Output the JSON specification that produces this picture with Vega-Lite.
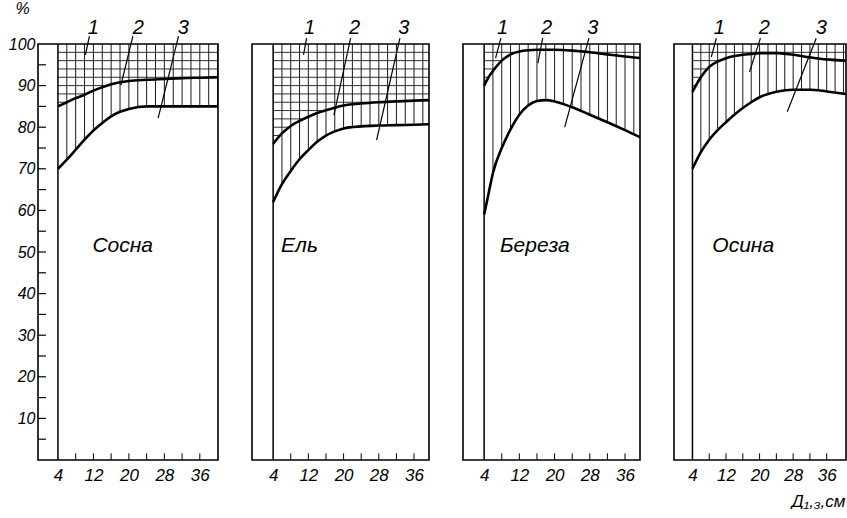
{
  "$schema": "https://vega.github.io/schema/vega-lite/v6.json",
  "background": "white",
  "padding": {"left": 8, "top": 0, "right": 0, "bottom": 0},
  "spacing": 27,
  "config": {
    "view": {"stroke": null},
    "font": "Liberation Sans",
    "axis": {"labelFont": "Liberation Sans", "labelFontStyle": "italic", "labelFontSize": 17, "labelColor": "black", "ticks": false, "domain": false, "grid": false, "zindex": 1, "labelFlush": false, "labelOverlap": false, "titleFont": "Liberation Sans", "titleFontStyle": "italic", "titleFontWeight": "normal", "titleColor": "black"}
  },
  "datasets": {
    "curves": [
      {"sp": "Сосна", "x": 4, "up": 85, "lo": 70},
      {"sp": "Сосна", "x": 6, "up": 86, "lo": 72.2},
      {"sp": "Сосна", "x": 8, "up": 87, "lo": 74.6},
      {"sp": "Сосна", "x": 10, "up": 87.8, "lo": 77},
      {"sp": "Сосна", "x": 12, "up": 88.8, "lo": 79.2},
      {"sp": "Сосна", "x": 14, "up": 89.6, "lo": 81},
      {"sp": "Сосна", "x": 16, "up": 90.3, "lo": 82.6},
      {"sp": "Сосна", "x": 18, "up": 90.8, "lo": 83.7},
      {"sp": "Сосна", "x": 20, "up": 91.1, "lo": 84.4},
      {"sp": "Сосна", "x": 24, "up": 91.4, "lo": 85},
      {"sp": "Сосна", "x": 28, "up": 91.6, "lo": 85},
      {"sp": "Сосна", "x": 32, "up": 91.8, "lo": 85},
      {"sp": "Сосна", "x": 36, "up": 91.9, "lo": 85},
      {"sp": "Сосна", "x": 40.1, "up": 92, "lo": 85},
      {"sp": "Ель", "x": 4, "up": 76, "lo": 62},
      {"sp": "Ель", "x": 6, "up": 78.5, "lo": 66.3},
      {"sp": "Ель", "x": 8, "up": 80.3, "lo": 69.5},
      {"sp": "Ель", "x": 10, "up": 81.5, "lo": 72.3},
      {"sp": "Ель", "x": 12, "up": 82.5, "lo": 74.5},
      {"sp": "Ель", "x": 14, "up": 83.4, "lo": 76.5},
      {"sp": "Ель", "x": 16, "up": 84.1, "lo": 78},
      {"sp": "Ель", "x": 18, "up": 84.7, "lo": 79},
      {"sp": "Ель", "x": 20, "up": 85.2, "lo": 79.7},
      {"sp": "Ель", "x": 24, "up": 85.7, "lo": 80.2},
      {"sp": "Ель", "x": 28, "up": 86, "lo": 80.4},
      {"sp": "Ель", "x": 32, "up": 86.2, "lo": 80.5},
      {"sp": "Ель", "x": 36, "up": 86.4, "lo": 80.6},
      {"sp": "Ель", "x": 39.4, "up": 86.5, "lo": 80.7},
      {"sp": "Береза", "x": 4, "up": 90, "lo": 59},
      {"sp": "Береза", "x": 5, "up": 92, "lo": 64},
      {"sp": "Береза", "x": 6, "up": 93.5, "lo": 69},
      {"sp": "Береза", "x": 8, "up": 96, "lo": 75},
      {"sp": "Береза", "x": 10, "up": 97.5, "lo": 79.5},
      {"sp": "Береза", "x": 12, "up": 98.2, "lo": 83},
      {"sp": "Береза", "x": 14, "up": 98.5, "lo": 85.2},
      {"sp": "Береза", "x": 16, "up": 98.6, "lo": 86.3},
      {"sp": "Береза", "x": 18, "up": 98.6, "lo": 86.5},
      {"sp": "Береза", "x": 20, "up": 98.6, "lo": 86.2},
      {"sp": "Береза", "x": 24, "up": 98.4, "lo": 84.8},
      {"sp": "Береза", "x": 28, "up": 98, "lo": 83},
      {"sp": "Береза", "x": 32, "up": 97.5, "lo": 81.2},
      {"sp": "Береза", "x": 36, "up": 97, "lo": 79.3},
      {"sp": "Береза", "x": 39.4, "up": 96.6, "lo": 77.6},
      {"sp": "Осина", "x": 4, "up": 88.5, "lo": 70},
      {"sp": "Осина", "x": 6, "up": 92, "lo": 74},
      {"sp": "Осина", "x": 8, "up": 94.5, "lo": 77},
      {"sp": "Осина", "x": 10, "up": 95.8, "lo": 79.3},
      {"sp": "Осина", "x": 12, "up": 96.6, "lo": 81.2},
      {"sp": "Осина", "x": 14, "up": 97.1, "lo": 83},
      {"sp": "Осина", "x": 16, "up": 97.4, "lo": 84.6},
      {"sp": "Осина", "x": 18, "up": 97.6, "lo": 86},
      {"sp": "Осина", "x": 20, "up": 97.8, "lo": 87.2},
      {"sp": "Осина", "x": 24, "up": 97.8, "lo": 88.5},
      {"sp": "Осина", "x": 28, "up": 97.4, "lo": 89},
      {"sp": "Осина", "x": 32, "up": 96.8, "lo": 89},
      {"sp": "Осина", "x": 36, "up": 96.3, "lo": 88.6},
      {"sp": "Осина", "x": 40.6, "up": 96, "lo": 88}
    ],
    "hv": [{"v": 6}, {"v": 8}, {"v": 10}, {"v": 12}, {"v": 14}, {"v": 16}, {"v": 18}, {"v": 20}, {"v": 22}, {"v": 24}, {"v": 26}, {"v": 28}, {"v": 30}, {"v": 32}, {"v": 34}, {"v": 36}, {"v": 38}, {"v": 40}],
    "hh": [{"h": 60}, {"h": 62}, {"h": 64}, {"h": 66}, {"h": 68}, {"h": 70}, {"h": 72}, {"h": 74}, {"h": 76}, {"h": 78}, {"h": 80}, {"h": 82}, {"h": 84}, {"h": 86}, {"h": 88}, {"h": 90}, {"h": 92}, {"h": 94}, {"h": 96}, {"h": 98}],
    "xt": [{"t": 8}, {"t": 12}, {"t": 16}, {"t": 20}, {"t": 24}, {"t": 28}, {"t": 32}, {"t": 36}],
    "yt": [{"t": 5}, {"t": 10}, {"t": 15}, {"t": 20}, {"t": 25}, {"t": 30}, {"t": 35}, {"t": 40}, {"t": 45}, {"t": 50}, {"t": 55}, {"t": 60}, {"t": 65}, {"t": 70}, {"t": 75}, {"t": 80}, {"t": 85}, {"t": 90}, {"t": 95}],
    "ann": [
      {"sp": "Сосна", "n": "1", "tx": 12, "ty": 103.8, "ax": 11.1, "ay": 101.9, "bx": 10.2, "by": 97.4},
      {"sp": "Сосна", "n": "2", "tx": 22.1, "ty": 103.8, "ax": 20.9, "ay": 101.9, "bx": 18.2, "by": 90.1},
      {"sp": "Сосна", "n": "3", "tx": 32.3, "ty": 103.8, "ax": 31.2, "ay": 101.9, "bx": 26.6, "by": 82.2},
      {"sp": "Ель", "n": "1", "tx": 12.3, "ty": 103.8, "ax": 11.6, "ay": 101.4, "bx": 10.9, "by": 97.4},
      {"sp": "Ель", "n": "2", "tx": 22.5, "ty": 103.8, "ax": 21.6, "ay": 101.4, "bx": 17.8, "by": 82.9},
      {"sp": "Ель", "n": "3", "tx": 33.7, "ty": 103.8, "ax": 32.8, "ay": 101.4, "bx": 27.5, "by": 76.9},
      {"sp": "Береза", "n": "1", "tx": 8.2, "ty": 103.8, "ax": 7.8, "ay": 101.4, "bx": 6.6, "by": 96.6},
      {"sp": "Береза", "n": "2", "tx": 18.2, "ty": 103.8, "ax": 17.3, "ay": 101.4, "bx": 16.2, "by": 95.4},
      {"sp": "Береза", "n": "3", "tx": 28.7, "ty": 103.8, "ax": 27.8, "ay": 101.4, "bx": 22.3, "by": 80},
      {"sp": "Осина", "n": "1", "tx": 10.4, "ty": 103.8, "ax": 9.7, "ay": 101.4, "bx": 8.5, "by": 96.9},
      {"sp": "Осина", "n": "2", "tx": 21.1, "ty": 103.8, "ax": 20.2, "ay": 101.4, "bx": 17.6, "by": 93.3},
      {"sp": "Осина", "n": "3", "tx": 34.7, "ty": 103.8, "ax": 33.5, "ay": 101.4, "bx": 26.6, "by": 83.7}
    ],
    "names": [
      {"sp": "Сосна", "name": "Сосна", "nx": 18.6, "ny": 51.4},
      {"sp": "Ель", "name": "Ель", "nx": 10, "ny": 51.4},
      {"sp": "Береза", "name": "Береза", "nx": 15.5, "ny": 51.4},
      {"sp": "Осина", "name": "Осина", "nx": 16.1, "ny": 51.4}
    ]
  },
  "hconcat": [
    {
      "width": 180, "height": 416,
      "layer": [
        {"data": {"name": "hh"}, "mark": {"type": "rule", "color": "#1a1a1a", "strokeWidth": 0.9},
         "encoding": {
           "x": {"datum": 4, "type": "quantitative", "scale": {"domain": [-0.5, 40.1], "nice": false, "zero": false},
                 "axis": {"values": [4, 12, 20, 28, 36], "labelPadding": 7, "title": null}},
           "x2": {"datum": 40.1},
           "y": {"field": "h", "type": "quantitative", "scale": {"domain": [0, 100], "nice": false, "zero": false},
                 "axis": {"values": [10, 20, 30, 40, 50, 60, 70, 80, 90, 100], "labelFontSize": 16, "labelPadding": 3, "title": "%", "titleAngle": 0, "titleX": -16, "titleY": -36, "titleAlign": "center", "titleBaseline": "middle", "titleFontSize": 16}}
         }},
        {"data": {"name": "curves"}, "transform": [{"filter": "datum.sp === 'Сосна'"}], "mark": {"type": "area", "fill": "white", "fillOpacity": 1, "interpolate": "monotone"},
         "encoding": {"x": {"field": "x", "type": "quantitative"}, "y": {"field": "up", "type": "quantitative"}, "y2": {"datum": 0}}},
        {"data": {"name": "hv"}, "mark": {"type": "rule", "color": "#1a1a1a", "strokeWidth": 1, "clip": true},
         "encoding": {"x": {"field": "v", "type": "quantitative"}, "y": {"datum": 0}, "y2": {"datum": 100}}},
        {"data": {"name": "curves"}, "transform": [{"filter": "datum.sp === 'Сосна'"}], "mark": {"type": "area", "fill": "white", "fillOpacity": 1, "interpolate": "monotone"},
         "encoding": {"x": {"field": "x", "type": "quantitative"}, "y": {"field": "lo", "type": "quantitative"}, "y2": {"datum": 0}}},
        {"data": {"values": [{}]}, "mark": {"type": "rule", "color": "black", "strokeWidth": 1.5},
         "encoding": {"x": {"datum": 4}, "y": {"datum": 0}, "y2": {"datum": 100}}},
        {"data": {"name": "xt"}, "mark": {"type": "rule", "color": "black", "strokeWidth": 1},
         "encoding": {"x": {"field": "t", "type": "quantitative"}, "y": {"datum": 0}, "y2": {"datum": 1.6}}},
        {"data": {"name": "yt"}, "mark": {"type": "rule", "color": "black", "strokeWidth": 1.2},
         "encoding": {"x": {"datum": -0.5}, "x2": {"datum": 1.3}, "y": {"field": "t", "type": "quantitative"}}},
        {"data": {"name": "curves"}, "transform": [{"filter": "datum.sp === 'Сосна'"}], "mark": {"type": "line", "color": "black", "strokeWidth": 2.6, "interpolate": "monotone"},
         "encoding": {"x": {"field": "x", "type": "quantitative"}, "y": {"field": "up", "type": "quantitative"}}},
        {"data": {"name": "curves"}, "transform": [{"filter": "datum.sp === 'Сосна'"}], "mark": {"type": "line", "color": "black", "strokeWidth": 2.6, "interpolate": "monotone"},
         "encoding": {"x": {"field": "x", "type": "quantitative"}, "y": {"field": "lo", "type": "quantitative"}}},
        {"data": {"values": [{}]}, "mark": {"type": "rect", "filled": false, "stroke": "black", "strokeWidth": 1.6},
         "encoding": {"x": {"datum": -0.5}, "x2": {"datum": 40.1}, "y": {"datum": 0}, "y2": {"datum": 100}}},
        {"data": {"name": "ann"}, "transform": [{"filter": "datum.sp === 'Сосна'"}], "mark": {"type": "rule", "color": "black", "strokeWidth": 1.2},
         "encoding": {"x": {"field": "ax", "type": "quantitative"}, "y": {"field": "ay", "type": "quantitative"}, "x2": {"field": "bx"}, "y2": {"field": "by"}}},
        {"data": {"name": "ann"}, "transform": [{"filter": "datum.sp === 'Сосна'"}], "mark": {"type": "text", "fontSize": 20, "fontStyle": "italic", "baseline": "middle", "align": "center"},
         "encoding": {"x": {"field": "tx", "type": "quantitative"}, "y": {"field": "ty", "type": "quantitative"}, "text": {"field": "n"}}},
        {"data": {"name": "names"}, "transform": [{"filter": "datum.sp === 'Сосна'"}], "mark": {"type": "text", "fontSize": 21, "fontStyle": "italic", "baseline": "middle", "align": "center"},
         "encoding": {"x": {"field": "nx", "type": "quantitative"}, "y": {"field": "ny", "type": "quantitative"}, "text": {"field": "name"}}}
      ]
    },
    {
      "width": 177, "height": 416,
      "layer": [
        {"data": {"name": "hh"}, "mark": {"type": "rule", "color": "#1a1a1a", "strokeWidth": 0.9},
         "encoding": {
           "x": {"datum": 4, "type": "quantitative", "scale": {"domain": [-0.8, 39.4], "nice": false, "zero": false},
                 "axis": {"values": [4, 12, 20, 28, 36], "labelPadding": 7, "title": null}},
           "x2": {"datum": 39.4},
           "y": {"field": "h", "type": "quantitative", "scale": {"domain": [0, 100], "nice": false, "zero": false}, "axis": null}
         }},
        {"data": {"name": "curves"}, "transform": [{"filter": "datum.sp === 'Ель'"}], "mark": {"type": "area", "fill": "white", "fillOpacity": 1, "interpolate": "monotone"},
         "encoding": {"x": {"field": "x", "type": "quantitative"}, "y": {"field": "up", "type": "quantitative"}, "y2": {"datum": 0}}},
        {"data": {"name": "hv"}, "mark": {"type": "rule", "color": "#1a1a1a", "strokeWidth": 1, "clip": true},
         "encoding": {"x": {"field": "v", "type": "quantitative"}, "y": {"datum": 0}, "y2": {"datum": 100}}},
        {"data": {"name": "curves"}, "transform": [{"filter": "datum.sp === 'Ель'"}], "mark": {"type": "area", "fill": "white", "fillOpacity": 1, "interpolate": "monotone"},
         "encoding": {"x": {"field": "x", "type": "quantitative"}, "y": {"field": "lo", "type": "quantitative"}, "y2": {"datum": 0}}},
        {"data": {"values": [{}]}, "mark": {"type": "rule", "color": "black", "strokeWidth": 1.5},
         "encoding": {"x": {"datum": 4}, "y": {"datum": 0}, "y2": {"datum": 100}}},
        {"data": {"name": "xt"}, "mark": {"type": "rule", "color": "black", "strokeWidth": 1},
         "encoding": {"x": {"field": "t", "type": "quantitative"}, "y": {"datum": 0}, "y2": {"datum": 1.6}}},
        {"data": {"name": "curves"}, "transform": [{"filter": "datum.sp === 'Ель'"}], "mark": {"type": "line", "color": "black", "strokeWidth": 2.6, "interpolate": "monotone"},
         "encoding": {"x": {"field": "x", "type": "quantitative"}, "y": {"field": "up", "type": "quantitative"}}},
        {"data": {"name": "curves"}, "transform": [{"filter": "datum.sp === 'Ель'"}], "mark": {"type": "line", "color": "black", "strokeWidth": 2.6, "interpolate": "monotone"},
         "encoding": {"x": {"field": "x", "type": "quantitative"}, "y": {"field": "lo", "type": "quantitative"}}},
        {"data": {"values": [{}]}, "mark": {"type": "rect", "filled": false, "stroke": "black", "strokeWidth": 1.6},
         "encoding": {"x": {"datum": -0.8}, "x2": {"datum": 39.4}, "y": {"datum": 0}, "y2": {"datum": 100}}},
        {"data": {"name": "ann"}, "transform": [{"filter": "datum.sp === 'Ель'"}], "mark": {"type": "rule", "color": "black", "strokeWidth": 1.2},
         "encoding": {"x": {"field": "ax", "type": "quantitative"}, "y": {"field": "ay", "type": "quantitative"}, "x2": {"field": "bx"}, "y2": {"field": "by"}}},
        {"data": {"name": "ann"}, "transform": [{"filter": "datum.sp === 'Ель'"}], "mark": {"type": "text", "fontSize": 20, "fontStyle": "italic", "baseline": "middle", "align": "center"},
         "encoding": {"x": {"field": "tx", "type": "quantitative"}, "y": {"field": "ty", "type": "quantitative"}, "text": {"field": "n"}}},
        {"data": {"name": "names"}, "transform": [{"filter": "datum.sp === 'Ель'"}], "mark": {"type": "text", "fontSize": 21, "fontStyle": "italic", "baseline": "middle", "align": "center"},
         "encoding": {"x": {"field": "nx", "type": "quantitative"}, "y": {"field": "ny", "type": "quantitative"}, "text": {"field": "name"}}}
      ]
    },
    {
      "width": 177, "height": 416,
      "layer": [
        {"data": {"name": "hh"}, "mark": {"type": "rule", "color": "#1a1a1a", "strokeWidth": 0.9},
         "encoding": {
           "x": {"datum": 4, "type": "quantitative", "scale": {"domain": [-0.8, 39.4], "nice": false, "zero": false},
                 "axis": {"values": [4, 12, 20, 28, 36], "labelPadding": 7, "title": null}},
           "x2": {"datum": 39.4},
           "y": {"field": "h", "type": "quantitative", "scale": {"domain": [0, 100], "nice": false, "zero": false}, "axis": null}
         }},
        {"data": {"name": "curves"}, "transform": [{"filter": "datum.sp === 'Береза'"}], "mark": {"type": "area", "fill": "white", "fillOpacity": 1, "interpolate": "monotone"},
         "encoding": {"x": {"field": "x", "type": "quantitative"}, "y": {"field": "up", "type": "quantitative"}, "y2": {"datum": 0}}},
        {"data": {"name": "hv"}, "mark": {"type": "rule", "color": "#1a1a1a", "strokeWidth": 1, "clip": true},
         "encoding": {"x": {"field": "v", "type": "quantitative"}, "y": {"datum": 0}, "y2": {"datum": 100}}},
        {"data": {"name": "curves"}, "transform": [{"filter": "datum.sp === 'Береза'"}], "mark": {"type": "area", "fill": "white", "fillOpacity": 1, "interpolate": "monotone"},
         "encoding": {"x": {"field": "x", "type": "quantitative"}, "y": {"field": "lo", "type": "quantitative"}, "y2": {"datum": 0}}},
        {"data": {"values": [{}]}, "mark": {"type": "rule", "color": "black", "strokeWidth": 1.5},
         "encoding": {"x": {"datum": 4}, "y": {"datum": 0}, "y2": {"datum": 100}}},
        {"data": {"name": "xt"}, "mark": {"type": "rule", "color": "black", "strokeWidth": 1},
         "encoding": {"x": {"field": "t", "type": "quantitative"}, "y": {"datum": 0}, "y2": {"datum": 1.6}}},
        {"data": {"name": "curves"}, "transform": [{"filter": "datum.sp === 'Береза'"}], "mark": {"type": "line", "color": "black", "strokeWidth": 2.6, "interpolate": "monotone"},
         "encoding": {"x": {"field": "x", "type": "quantitative"}, "y": {"field": "up", "type": "quantitative"}}},
        {"data": {"name": "curves"}, "transform": [{"filter": "datum.sp === 'Береза'"}], "mark": {"type": "line", "color": "black", "strokeWidth": 2.6, "interpolate": "monotone"},
         "encoding": {"x": {"field": "x", "type": "quantitative"}, "y": {"field": "lo", "type": "quantitative"}}},
        {"data": {"values": [{}]}, "mark": {"type": "rect", "filled": false, "stroke": "black", "strokeWidth": 1.6},
         "encoding": {"x": {"datum": -0.8}, "x2": {"datum": 39.4}, "y": {"datum": 0}, "y2": {"datum": 100}}},
        {"data": {"name": "ann"}, "transform": [{"filter": "datum.sp === 'Береза'"}], "mark": {"type": "rule", "color": "black", "strokeWidth": 1.2},
         "encoding": {"x": {"field": "ax", "type": "quantitative"}, "y": {"field": "ay", "type": "quantitative"}, "x2": {"field": "bx"}, "y2": {"field": "by"}}},
        {"data": {"name": "ann"}, "transform": [{"filter": "datum.sp === 'Береза'"}], "mark": {"type": "text", "fontSize": 20, "fontStyle": "italic", "baseline": "middle", "align": "center"},
         "encoding": {"x": {"field": "tx", "type": "quantitative"}, "y": {"field": "ty", "type": "quantitative"}, "text": {"field": "n"}}},
        {"data": {"name": "names"}, "transform": [{"filter": "datum.sp === 'Береза'"}], "mark": {"type": "text", "fontSize": 21, "fontStyle": "italic", "baseline": "middle", "align": "center"},
         "encoding": {"x": {"field": "nx", "type": "quantitative"}, "y": {"field": "ny", "type": "quantitative"}, "text": {"field": "name"}}}
      ]
    },
    {
      "width": 172, "height": 416,
      "layer": [
        {"data": {"name": "hh"}, "mark": {"type": "rule", "color": "#1a1a1a", "strokeWidth": 0.9},
         "encoding": {
           "x": {"datum": 4, "type": "quantitative", "scale": {"domain": [-0.4, 40.6], "nice": false, "zero": false},
                 "axis": {"values": [4, 12, 20, 28, 36], "labelPadding": 7, "title": "Д₁,₃,см", "titleAngle": 0, "titleX": 171, "titleY": 46, "titleAlign": "right", "titleBaseline": "alphabetic", "titleFontSize": 17}},
           "x2": {"datum": 40.6},
           "y": {"field": "h", "type": "quantitative", "scale": {"domain": [0, 100], "nice": false, "zero": false}, "axis": null}
         }},
        {"data": {"name": "curves"}, "transform": [{"filter": "datum.sp === 'Осина'"}], "mark": {"type": "area", "fill": "white", "fillOpacity": 1, "interpolate": "monotone"},
         "encoding": {"x": {"field": "x", "type": "quantitative"}, "y": {"field": "up", "type": "quantitative"}, "y2": {"datum": 0}}},
        {"data": {"name": "hv"}, "mark": {"type": "rule", "color": "#1a1a1a", "strokeWidth": 1, "clip": true},
         "encoding": {"x": {"field": "v", "type": "quantitative"}, "y": {"datum": 0}, "y2": {"datum": 100}}},
        {"data": {"name": "curves"}, "transform": [{"filter": "datum.sp === 'Осина'"}], "mark": {"type": "area", "fill": "white", "fillOpacity": 1, "interpolate": "monotone"},
         "encoding": {"x": {"field": "x", "type": "quantitative"}, "y": {"field": "lo", "type": "quantitative"}, "y2": {"datum": 0}}},
        {"data": {"values": [{}]}, "mark": {"type": "rule", "color": "black", "strokeWidth": 1.5},
         "encoding": {"x": {"datum": 4}, "y": {"datum": 0}, "y2": {"datum": 100}}},
        {"data": {"name": "xt"}, "mark": {"type": "rule", "color": "black", "strokeWidth": 1},
         "encoding": {"x": {"field": "t", "type": "quantitative"}, "y": {"datum": 0}, "y2": {"datum": 1.6}}},
        {"data": {"name": "curves"}, "transform": [{"filter": "datum.sp === 'Осина'"}], "mark": {"type": "line", "color": "black", "strokeWidth": 2.6, "interpolate": "monotone"},
         "encoding": {"x": {"field": "x", "type": "quantitative"}, "y": {"field": "up", "type": "quantitative"}}},
        {"data": {"name": "curves"}, "transform": [{"filter": "datum.sp === 'Осина'"}], "mark": {"type": "line", "color": "black", "strokeWidth": 2.6, "interpolate": "monotone"},
         "encoding": {"x": {"field": "x", "type": "quantitative"}, "y": {"field": "lo", "type": "quantitative"}}},
        {"data": {"values": [{}]}, "mark": {"type": "rect", "filled": false, "stroke": "black", "strokeWidth": 1.6},
         "encoding": {"x": {"datum": -0.4}, "x2": {"datum": 40.6}, "y": {"datum": 0}, "y2": {"datum": 100}}},
        {"data": {"name": "ann"}, "transform": [{"filter": "datum.sp === 'Осина'"}], "mark": {"type": "rule", "color": "black", "strokeWidth": 1.2},
         "encoding": {"x": {"field": "ax", "type": "quantitative"}, "y": {"field": "ay", "type": "quantitative"}, "x2": {"field": "bx"}, "y2": {"field": "by"}}},
        {"data": {"name": "ann"}, "transform": [{"filter": "datum.sp === 'Осина'"}], "mark": {"type": "text", "fontSize": 20, "fontStyle": "italic", "baseline": "middle", "align": "center"},
         "encoding": {"x": {"field": "tx", "type": "quantitative"}, "y": {"field": "ty", "type": "quantitative"}, "text": {"field": "n"}}},
        {"data": {"name": "names"}, "transform": [{"filter": "datum.sp === 'Осина'"}], "mark": {"type": "text", "fontSize": 21, "fontStyle": "italic", "baseline": "middle", "align": "center"},
         "encoding": {"x": {"field": "nx", "type": "quantitative"}, "y": {"field": "ny", "type": "quantitative"}, "text": {"field": "name"}}}
      ]
    }
  ]
}
